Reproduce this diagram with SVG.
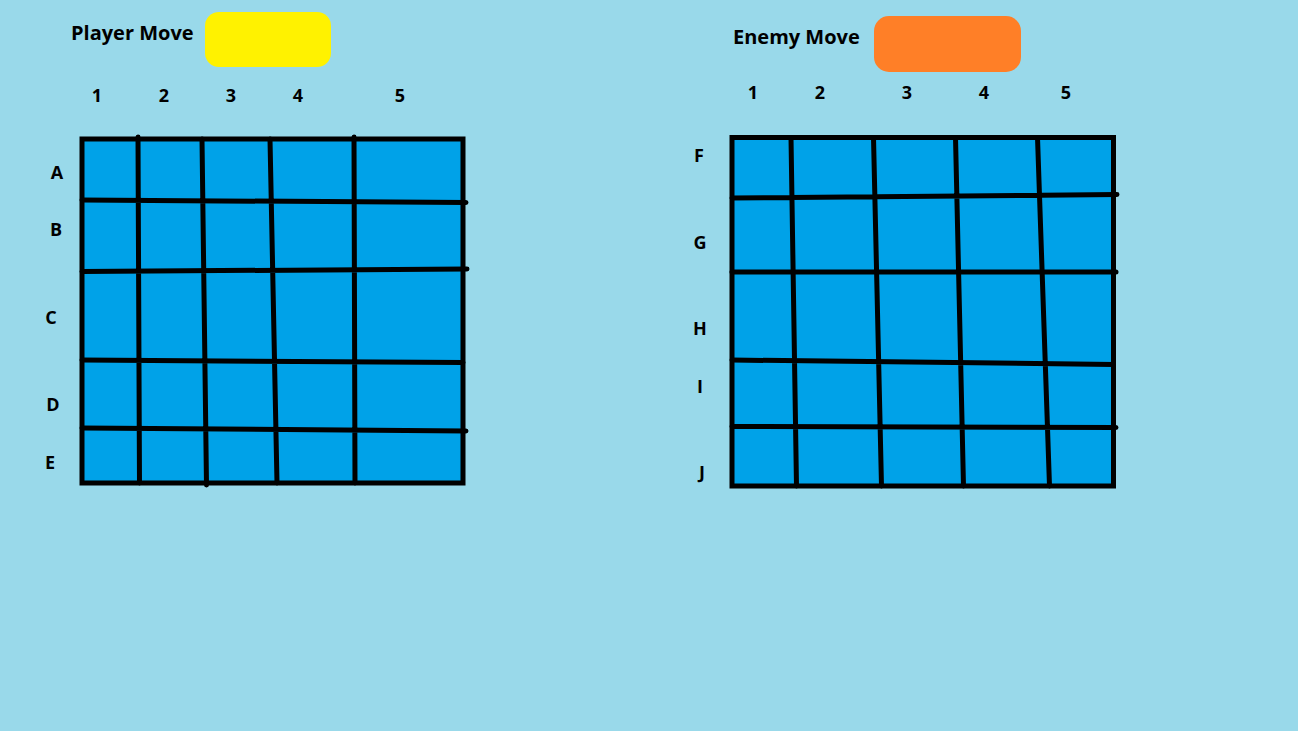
<svg xmlns="http://www.w3.org/2000/svg" width="1298" height="731" viewBox="0 0 1298 731">
<style>
.t{font-family:"Open Sans","Noto Sans",sans-serif;font-weight:bold;font-size:18px;fill:#000}
.h{font-size:20px}
.c{text-anchor:middle}
.g{fill:#00A2E8;stroke:#000;stroke-width:5}
.l{stroke:#000;stroke-width:5;stroke-linecap:round;fill:none}
</style>
<rect width="1298" height="731" fill="#99D9EA"/>
<g id="player-header">
<text class="t h" x="71" y="40">Player Move</text>
<rect x="205" y="12" width="126" height="55" rx="14" fill="#FFF200"/>
</g>
<g id="enemy-header">
<text class="t h" x="733" y="44">Enemy Move</text>
<rect x="874" y="16" width="147" height="56" rx="15" fill="#FF7F27"/>
</g>
<g id="player-labels">
<text class="t c" x="97" y="102">1</text>
<text class="t c" x="164" y="102">2</text>
<text class="t c" x="231" y="102">3</text>
<text class="t c" x="298" y="102">4</text>
<text class="t c" x="400" y="102">5</text>
<text class="t c" x="57" y="179">A</text>
<text class="t c" x="56" y="236">B</text>
<text class="t c" x="51" y="324">C</text>
<text class="t c" x="53" y="411">D</text>
<text class="t c" x="50" y="469">E</text>
</g>
<g id="enemy-labels">
<text class="t c" x="753" y="99">1</text>
<text class="t c" x="820" y="99">2</text>
<text class="t c" x="907" y="99">3</text>
<text class="t c" x="984" y="99">4</text>
<text class="t c" x="1066" y="99">5</text>
<text class="t c" x="699" y="162">F</text>
<text class="t c" x="700" y="249">G</text>
<text class="t c" x="700" y="335">H</text>
<text class="t c" x="700" y="393">I</text>
<text class="t c" x="702" y="479">J</text>
</g>
<g id="player-grid">
<rect class="g" x="82" y="139" width="381" height="344"/>
<path class="l" d="M138 137 L139.5 483 M202 139 L206.5 485 M270 139 L277 483 M354 137 L355 483 M82 200 L466 202.5 M82 271.5 L467 269 M82 360 L463 362.5 M82 428 L466 431"/>
</g>
<g id="enemy-grid">
<rect class="g" x="732" y="137.5" width="381.5" height="348.5"/>
<path class="l" d="M791 137.5 L796.5 486 M873.5 137.5 L881.5 486 M955.5 137.5 L963.5 486 M1037.5 137.5 L1049.5 486 M732 198 L1117 194.5 M732 272 L1116 272 M732 360 L1113.5 364.5 M732 426.5 L1116 427.5"/>
</g>
</svg>
